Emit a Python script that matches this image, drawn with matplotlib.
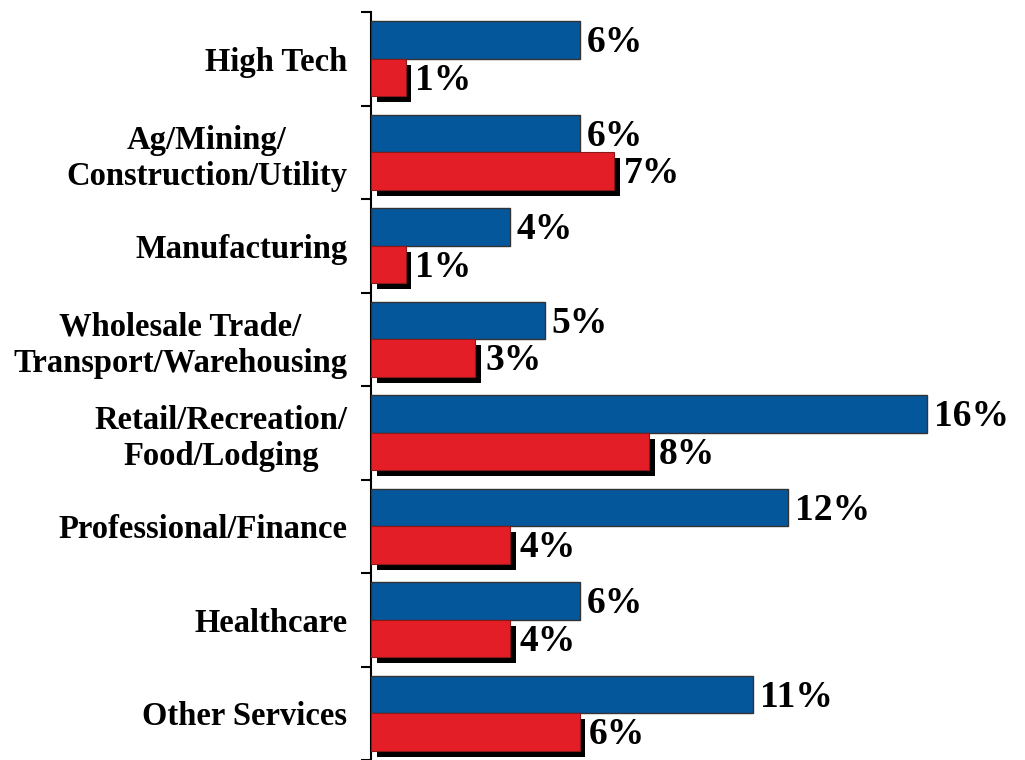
import matplotlib
matplotlib.use("Agg")
import matplotlib.pyplot as plt
import matplotlib.patheffects as pe
import numpy as np

categories = ["High Tech", "Ag/Mining/\nConstruction/Utility", "Manufacturing",
              "Wholesale Trade/\nTransport/Warehousing", "Retail/Recreation/\nFood/Lodging",
              "Professional/Finance", "Healthcare", "Other Services"]
blue_vals = [6, 6, 4, 5, 16, 12, 6, 11]
red_vals = [1, 7, 1, 3, 8, 4, 4, 6]

BLUE = "#04579B"
RED = "#E41E26"
FONT = "Liberation Serif"

fig = plt.figure(figsize=(10.25, 7.6), dpi=100)
ax = fig.add_axes([371/1025, 0, (1025-371)/1025, 748/760])

n = len(categories)
y = np.arange(n)
h = 0.4
ax.barh(y - 0.2, blue_vals, height=h, color=BLUE, edgecolor="#333333", linewidth=1.0, zorder=3)
rb = ax.barh(y + 0.2, red_vals, height=h, color=RED, edgecolor="#8a1a1a", linewidth=0.8, zorder=3)
for p in rb:
    p.set_path_effects([pe.SimplePatchShadow(offset=(4.0, -4.3), shadow_rgbFace="black", alpha=1.0),
                        pe.Normal()])

for i, v in enumerate(blue_vals):
    ax.annotate(f"{v}%", (v, y[i] - 0.2), xytext=(5, -2), textcoords="offset points",
                ha="left", va="center", fontsize=27, fontweight="bold", family=FONT)
for i, v in enumerate(red_vals):
    ax.annotate(f"{v}%", (v, y[i] + 0.2), xytext=(7, -2), textcoords="offset points",
                ha="left", va="center", fontsize=27, fontweight="bold", family=FONT)

ax.set_ylim(n - 0.5, -0.5)
ax.set_xlim(0, (1025 - 371) / 34.75)
ax.set_yticks(y)
ax.set_yticklabels(categories, fontsize=23.5, fontweight="bold", family=FONT,
                   multialignment="center")
ax.set_yticks(np.arange(n + 1) - 0.5, minor=True)
ax.tick_params(axis="y", which="major", length=0, pad=17)
ax.tick_params(axis="y", which="minor", length=7, width=1.5, direction="out")
ax.set_xticks([])
for s in ["top", "right", "bottom"]:
    ax.spines[s].set_visible(False)
ax.spines["left"].set_linewidth(1.5)

fig.savefig("out.png", dpi=100)
